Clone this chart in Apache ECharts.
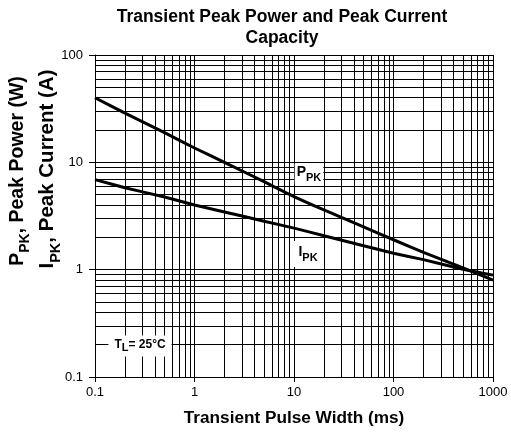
<!DOCTYPE html>
<html>
<head>
<meta charset="utf-8">
<script src="https://cdn.jsdelivr.net/npm/echarts@6/dist/echarts.min.js"></script>
<style>
html,body{margin:0;padding:0;background:#fff;}
#chart{width:511px;height:432px;}
</style>
</head>
<body>
<div id="chart"></div>
<script>
// ---- data ----
const pulseWidth  = [0.1, 0.2, 0.5, 1, 2, 5, 10, 20, 50, 100, 200, 500, 1000];      // ms
const peakPower   = [40, 28.7, 18.9, 13.6, 10, 6.6, 4.8, 3.6, 2.5, 1.9, 1.45, 1.04, 0.8]; // W
const peakCurrent = [6.9, 5.8, 4.75, 4.0, 3.45, 2.83, 2.44, 2.07, 1.67, 1.42, 1.24, 1.01, 0.89]; // A
const xTickLabels = ['0.1', '1', '10', '100', '1000'];
const yTickLabels = ['0.1', '1', '10', '100'];
const xMinorGrid = [0.2,0.3,0.4,0.5,0.6,0.7,0.8,0.9, 2,3,4,5,6,7,8,9, 20,30,40,50,60,70,80,90, 200,300,400,500,600,700,800,900];
const yMinorGrid = [0.2,0.3,0.4,0.5,0.6,0.7,0.8,0.9, 2,3,4,5,6,7,8,9, 20,30,40,50,60,70,80,90];

const FONT = '"Liberation Sans", Arial, sans-serif';
const chart = echarts.init(document.getElementById('chart'), null, {renderer: 'canvas'});

function pairs(xs, ys) { return xs.map((x, i) => [x, ys[i]]); }
const gridLine = {color: '#000', width: 1, type: 'solid'};

const option = {
  animation: false,
  backgroundColor: '#fff',
  title: {
    text: 'Transient Peak Power and Peak Current\nCapacity',
    left: 282, top: 7, padding: 0, textAlign: 'center',
    textStyle: {fontFamily: FONT, fontSize: 17.5, fontWeight: 'bold', color: '#000', lineHeight: 21}
  },
  grid: {left: 95, right: 18, top: 55, bottom: 55},
  xAxis: {
    type: 'log', logBase: 10, min: 0.1, max: 1000,
    name: 'Transient Pulse Width (ms)', nameLocation: 'middle', nameGap: 33,
    nameTextStyle: {fontFamily: FONT, fontSize: 17.2, fontWeight: 'bold', color: '#000'},
    axisLine: {show: true, lineStyle: {color: '#000', width: 1}},
    axisTick: {show: true, inside: false, length: 5, lineStyle: {color: '#000'}},
    axisLabel: {
      margin: 9, fontFamily: FONT, fontSize: 13, color: '#000',
      formatter: v => { const e = Math.round(Math.log10(v)); return xTickLabels[e + 1]; }
    },
    splitLine: {show: true, lineStyle: gridLine}
  },
  yAxis: {
    type: 'log', logBase: 10, min: 0.1, max: 100,
    axisLine: {show: true, lineStyle: {color: '#000', width: 1}},
    axisTick: {show: true, inside: false, length: 6, lineStyle: {color: '#000'}},
    axisLabel: {
      margin: 12, fontFamily: FONT, fontSize: 13, color: '#000',
      formatter: v => { const e = Math.round(Math.log10(v)); return yTickLabels[e + 1]; }
    },
    splitLine: {show: true, lineStyle: gridLine}
  },
  series: [
    {
      name: 'grid', type: 'line', data: [], z: 1, silent: true,
      markLine: {
        silent: true, symbol: ['none', 'none'], animation: false,
        label: {show: false}, lineStyle: gridLine,
        data: xMinorGrid.map(v => ({xAxis: v})).concat(yMinorGrid.map(v => ({yAxis: v})))
      }
    },
    {
      name: 'PPK', type: 'line', z: 5, data: pairs(pulseWidth, peakPower),
      smooth: 0.15, symbol: 'none', lineStyle: {color: '#000', width: 3}
    },
    {
      name: 'IPK', type: 'line', z: 5, data: pairs(pulseWidth, peakCurrent),
      smooth: 0.15, symbol: 'none', lineStyle: {color: '#000', width: 3}
    }
  ],
  graphic: [
    {
      type: 'text', x: 20, y: 171, rotation: Math.PI / 2, z: 100,
      style: {
        text: '{m|P}{s|PK}{m|, Peak Power (W)}', align: 'center', verticalAlign: 'middle',
        rich: {
          m: {fontFamily: FONT, fontSize: 19.5, fontWeight: 'bold', fill: '#000', lineHeight: 25, verticalAlign: 'top'},
          s: {fontFamily: FONT, fontSize: 14, fontWeight: 'bold', fill: '#000', lineHeight: 14, verticalAlign: 'bottom'}
        }
      }
    },
    {
      type: 'text', x: 50, y: 169, rotation: Math.PI / 2, z: 100,
      style: {
        text: '{m|I}{s|PK}{m|, Peak Current (A)}', align: 'center', verticalAlign: 'middle',
        rich: {
          m: {fontFamily: FONT, fontSize: 20.5, fontWeight: 'bold', fill: '#000', lineHeight: 26, verticalAlign: 'top'},
          s: {fontFamily: FONT, fontSize: 14.5, fontWeight: 'bold', fill: '#000', lineHeight: 14, verticalAlign: 'bottom'}
        }
      }
    },
    {
      type: 'text', x: 309, y: 174, z: 100,
      style: {
        text: '{m|P}{s|PK}', align: 'center', verticalAlign: 'middle',
        backgroundColor: '#fff', padding: [2, 2, 1, 2],
        rich: {
          m: {fontFamily: FONT, fontSize: 14, fontWeight: 'bold', fill: '#000', lineHeight: 18, verticalAlign: 'top'},
          s: {fontFamily: FONT, fontSize: 11, fontWeight: 'bold', fill: '#000', lineHeight: 11, verticalAlign: 'bottom'}
        }
      }
    },
    {
      type: 'text', x: 308, y: 254, z: 100,
      style: {
        text: '{m|I}{s|PK}', align: 'center', verticalAlign: 'middle',
        backgroundColor: '#fff', padding: [4, 6, 4, 6],
        rich: {
          m: {fontFamily: FONT, fontSize: 14, fontWeight: 'bold', fill: '#000', lineHeight: 18, verticalAlign: 'top'},
          s: {fontFamily: FONT, fontSize: 11, fontWeight: 'bold', fill: '#000', lineHeight: 11, verticalAlign: 'bottom'}
        }
      }
    },
    {
      type: 'text', x: 140, y: 346, z: 100,
      style: {
        text: '{m|T}{s|L}{m|= 25°C}', align: 'center', verticalAlign: 'middle',
        backgroundColor: '#fff', padding: [3, 6, 3, 6],
        rich: {
          m: {fontFamily: FONT, fontSize: 12, fontWeight: 'bold', fill: '#000', lineHeight: 15, verticalAlign: 'top'},
          s: {fontFamily: FONT, fontSize: 11, fontWeight: 'bold', fill: '#000', lineHeight: 11, verticalAlign: 'bottom'}
        }
      }
    }
  ]
};
chart.setOption(option);
</script>
</body>
</html>
